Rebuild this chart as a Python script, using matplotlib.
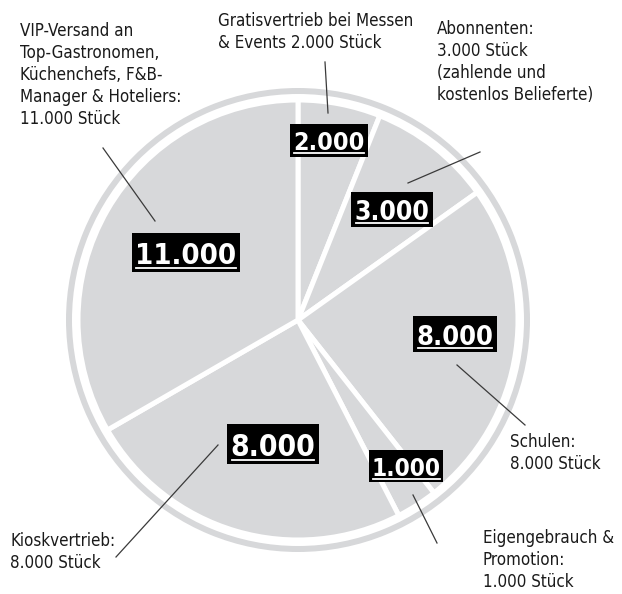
import matplotlib
matplotlib.use("Agg")
import matplotlib.pyplot as plt
from matplotlib import font_manager
from matplotlib.patches import Rectangle
from matplotlib.lines import Line2D
from matplotlib.transforms import IdentityTransform

# Daten (Auflage nach Vertriebsweg)
werte = [2000, 3000, 8000, 1000, 8000, 11000]
beschriftungen = [
    "Gratisvertrieb bei Messen\n& Events 2.000 Stück",
    "Abonnenten:\n3.000 Stück\n(zahlende und\nkostenlos Belieferte)",
    "Schulen:\n8.000 Stück",
    "Eigengebrauch &\nPromotion:\n1.000 Stück",
    "Kioskvertrieb:\n8.000 Stück",
    "VIP-Versand an\nTop-Gastronomen,\nKüchenchefs, F&B-\nManager & Hoteliers:\n11.000 Stück",
]
zahlen = [f"{w:,}".replace(",", ".") for w in werte]

# Layout (Pixel, y nach unten)
B, H = 622, 594
mitte = (298, 320)
radius = 220
text_pos = [(218, 12), (437, 20), (510, 433), (483, 529), (10, 532), (20, 22)]
linie_von = [(325, 62), (480, 152), (525, 425), (437, 543), (116, 557), (103, 148)]
linie_bis = [(328, 113), (408, 183), (457, 365), (413, 495), (218, 445), (155, 221)]
zahl_pos = [(329, 150), (392, 220), (455, 345), (406, 476), (273, 456), (186, 264)]
zahl_groesse = [18, 19, 19.5, 17.5, 21.5, 21]


# schmale Schrift suchen, sonst Roboto
def schmal(bold):
    for f in font_manager.fontManager.ttflist:
        n = (f.name + " " + f.fname).lower()
        ist_bold = f.weight in ("bold", 700) or "bold" in f.fname.lower()
        if ("narrow" in n or "condensed" in n or f.stretch not in ("normal", 500)) \
                and ist_bold == bold and "italic" not in n and "oblique" not in n:
            return font_manager.FontProperties(fname=f.fname)
    return font_manager.FontProperties(family="Roboto", weight="bold" if bold else "normal")


schrift = schmal(False)
schrift_b = schmal(True)

grau = "#d7d8da"

fig = plt.figure(figsize=(B / 100, H / 100), dpi=100)
ax = fig.add_axes([0, 0, 1, 1])

# y-Achse invertiert -> Startwinkel -90 und gegen den Uhrzeigersinn = optisch oben, im Uhrzeigersinn
ax.pie(werte, center=mitte, radius=radius, startangle=-90, counterclock=True,
       colors=[grau] * len(werte),
       wedgeprops=dict(edgecolor="white", linewidth=3.6))
ax.pie([1], center=mitte, radius=radius + 12, colors=[grau],
       wedgeprops=dict(width=6, linewidth=0))
ax.set_xlim(0, B)
ax.set_ylim(H, 0)
ax.set_aspect("equal")
ax.axis("off")

for txt, (x, y), p0, p1 in zip(beschriftungen, text_pos, linie_von, linie_bis):
    fp = schrift.copy()
    fp.set_size(12.2)
    ax.text(x, y, txt, ha="left", va="top", fontproperties=fp,
            color="#1a1a1a", linespacing=1.28)
    ax.plot([p0[0], p1[0]], [p0[1], p1[1]], color="#3a3a3a", lw=0.9)

zahl_texte = []
for z, (x, y), fs in zip(zahlen, zahl_pos, zahl_groesse):
    fp = schrift_b.copy()
    fp.set_size(fs)
    t = ax.text(x, y, z, ha="center", va="baseline", fontproperties=fp,
                color="white", zorder=5)
    zahl_texte.append((t, fs))

# schwarze Kästen und Unterstreichung aus der Textausdehnung
fig.canvas.draw()
r = fig.canvas.get_renderer()
for t, fs in zahl_texte:
    em = fs * 100 / 72
    bb = t.get_window_extent(r)
    xb, yb = ax.transData.transform(t.get_position())
    x0, x1 = bb.x0 - 0.12 * em, bb.x1 + 0.12 * em
    y0, y1 = yb - 0.26 * em, yb + 1.06 * em
    fig.add_artist(Rectangle((x0, y0), x1 - x0, y1 - y0, transform=IdentityTransform(),
                             facecolor="black", edgecolor="none", zorder=4))
    fig.add_artist(Line2D([bb.x0 + 1, bb.x1 - 1], [yb - 0.12 * em] * 2, transform=IdentityTransform(),
                          color="white", lw=1.3, zorder=6))
    t.remove()
    fig.add_artist(t)

plt.savefig("out.png", dpi=100)
